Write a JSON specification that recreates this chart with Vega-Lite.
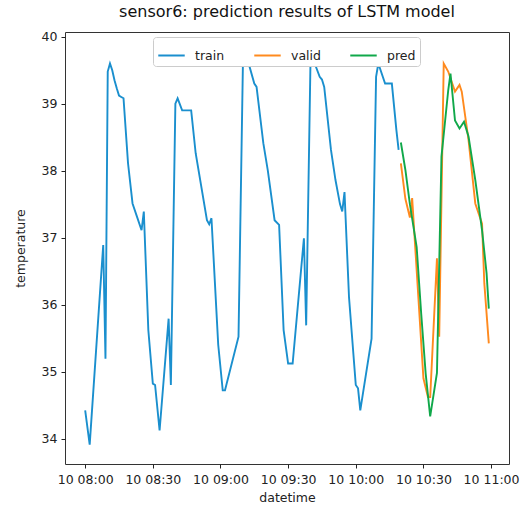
{
  "$schema": "https://vega.github.io/schema/vega-lite/v6.json",
  "width": 444,
  "height": 432,
  "autosize": {"type": "none"},
  "padding": {"left": 65, "top": 32, "right": 15, "bottom": 42},
  "background": "white",
  "title": {"text": "sensor6: prediction results of LSTM model", "fontSize": 16, "fontWeight": "normal", "font": "DejaVu Sans", "color": "#111", "offset": 11, "anchor": "middle"},
  "config": {
    "font": "DejaVu Sans",
    "view": {"stroke": "#333", "strokeWidth": 1},
    "axis": {"grid": false, "domain": false, "tickColor": "#222", "tickSize": 4, "labelColor": "#222", "titleColor": "#222", "labelFontSize": 12.5, "titleFontSize": 12.5, "titleFontWeight": "normal", "labelFont": "DejaVu Sans", "titleFont": "DejaVu Sans"}
  },
  "data": {"values": [
    {"series": "train", "time": "2020-01-10T08:00:00Z", "temperature": 34.42},
    {"series": "train", "time": "2020-01-10T08:02:00Z", "temperature": 33.91},
    {"series": "train", "time": "2020-01-10T08:08:00Z", "temperature": 36.89},
    {"series": "train", "time": "2020-01-10T08:09:00Z", "temperature": 35.19},
    {"series": "train", "time": "2020-01-10T08:10:00Z", "temperature": 39.48},
    {"series": "train", "time": "2020-01-10T08:11:00Z", "temperature": 39.6},
    {"series": "train", "time": "2020-01-10T08:12:00Z", "temperature": 39.5},
    {"series": "train", "time": "2020-01-10T08:13:00Z", "temperature": 39.35},
    {"series": "train", "time": "2020-01-10T08:14:00Z", "temperature": 39.23},
    {"series": "train", "time": "2020-01-10T08:15:00Z", "temperature": 39.12},
    {"series": "train", "time": "2020-01-10T08:16:00Z", "temperature": 39.1},
    {"series": "train", "time": "2020-01-10T08:17:00Z", "temperature": 39.08},
    {"series": "train", "time": "2020-01-10T08:19:00Z", "temperature": 38.11},
    {"series": "train", "time": "2020-01-10T08:21:00Z", "temperature": 37.51},
    {"series": "train", "time": "2020-01-10T08:23:00Z", "temperature": 37.31},
    {"series": "train", "time": "2020-01-10T08:25:00Z", "temperature": 37.11},
    {"series": "train", "time": "2020-01-10T08:26:00Z", "temperature": 37.39},
    {"series": "train", "time": "2020-01-10T08:28:00Z", "temperature": 35.62},
    {"series": "train", "time": "2020-01-10T08:30:00Z", "temperature": 34.82},
    {"series": "train", "time": "2020-01-10T08:31:00Z", "temperature": 34.8},
    {"series": "train", "time": "2020-01-10T08:33:00Z", "temperature": 34.12},
    {"series": "train", "time": "2020-01-10T08:37:00Z", "temperature": 35.79},
    {"series": "train", "time": "2020-01-10T08:38:00Z", "temperature": 34.8},
    {"series": "train", "time": "2020-01-10T08:40:00Z", "temperature": 39.0},
    {"series": "train", "time": "2020-01-10T08:41:00Z", "temperature": 39.08},
    {"series": "train", "time": "2020-01-10T08:43:00Z", "temperature": 38.9},
    {"series": "train", "time": "2020-01-10T08:47:00Z", "temperature": 38.9},
    {"series": "train", "time": "2020-01-10T08:49:00Z", "temperature": 38.26},
    {"series": "train", "time": "2020-01-10T08:54:00Z", "temperature": 37.26},
    {"series": "train", "time": "2020-01-10T08:55:00Z", "temperature": 37.2},
    {"series": "train", "time": "2020-01-10T08:56:00Z", "temperature": 37.29},
    {"series": "train", "time": "2020-01-10T08:59:00Z", "temperature": 35.4},
    {"series": "train", "time": "2020-01-10T09:01:00Z", "temperature": 34.72},
    {"series": "train", "time": "2020-01-10T09:02:00Z", "temperature": 34.72},
    {"series": "train", "time": "2020-01-10T09:08:00Z", "temperature": 35.52},
    {"series": "train", "time": "2020-01-10T09:10:00Z", "temperature": 39.7},
    {"series": "train", "time": "2020-01-10T09:11:00Z", "temperature": 39.78},
    {"series": "train", "time": "2020-01-10T09:15:00Z", "temperature": 39.3},
    {"series": "train", "time": "2020-01-10T09:16:00Z", "temperature": 39.25},
    {"series": "train", "time": "2020-01-10T09:19:00Z", "temperature": 38.41},
    {"series": "train", "time": "2020-01-10T09:21:00Z", "temperature": 38.0},
    {"series": "train", "time": "2020-01-10T09:24:00Z", "temperature": 37.26},
    {"series": "train", "time": "2020-01-10T09:26:00Z", "temperature": 37.19},
    {"series": "train", "time": "2020-01-10T09:28:00Z", "temperature": 35.62},
    {"series": "train", "time": "2020-01-10T09:30:00Z", "temperature": 35.12},
    {"series": "train", "time": "2020-01-10T09:32:00Z", "temperature": 35.12},
    {"series": "train", "time": "2020-01-10T09:37:00Z", "temperature": 36.99},
    {"series": "train", "time": "2020-01-10T09:38:00Z", "temperature": 35.69},
    {"series": "train", "time": "2020-01-10T09:40:00Z", "temperature": 39.8},
    {"series": "train", "time": "2020-01-10T09:41:00Z", "temperature": 39.73},
    {"series": "train", "time": "2020-01-10T09:42:00Z", "temperature": 39.58},
    {"series": "train", "time": "2020-01-10T09:44:00Z", "temperature": 39.4},
    {"series": "train", "time": "2020-01-10T09:45:00Z", "temperature": 39.36},
    {"series": "train", "time": "2020-01-10T09:46:00Z", "temperature": 39.25},
    {"series": "train", "time": "2020-01-10T09:49:00Z", "temperature": 38.31},
    {"series": "train", "time": "2020-01-10T09:51:00Z", "temperature": 37.86},
    {"series": "train", "time": "2020-01-10T09:53:00Z", "temperature": 37.5},
    {"series": "train", "time": "2020-01-10T09:54:00Z", "temperature": 37.39},
    {"series": "train", "time": "2020-01-10T09:55:00Z", "temperature": 37.68},
    {"series": "train", "time": "2020-01-10T09:57:00Z", "temperature": 36.11},
    {"series": "train", "time": "2020-01-10T10:00:00Z", "temperature": 34.8},
    {"series": "train", "time": "2020-01-10T10:01:00Z", "temperature": 34.75},
    {"series": "train", "time": "2020-01-10T10:02:00Z", "temperature": 34.42},
    {"series": "train", "time": "2020-01-10T10:07:00Z", "temperature": 35.49},
    {"series": "train", "time": "2020-01-10T10:09:00Z", "temperature": 39.4},
    {"series": "train", "time": "2020-01-10T10:10:00Z", "temperature": 39.6},
    {"series": "train", "time": "2020-01-10T10:13:00Z", "temperature": 39.3},
    {"series": "train", "time": "2020-01-10T10:16:00Z", "temperature": 39.3},
    {"series": "train", "time": "2020-01-10T10:18:00Z", "temperature": 38.61},
    {"series": "train", "time": "2020-01-10T10:19:00Z", "temperature": 38.31},
    {"series": "valid", "time": "2020-01-10T10:20:00Z", "temperature": 38.11},
    {"series": "valid", "time": "2020-01-10T10:22:00Z", "temperature": 37.58},
    {"series": "valid", "time": "2020-01-10T10:24:00Z", "temperature": 37.3},
    {"series": "valid", "time": "2020-01-10T10:25:00Z", "temperature": 37.59},
    {"series": "valid", "time": "2020-01-10T10:30:00Z", "temperature": 34.9},
    {"series": "valid", "time": "2020-01-10T10:32:00Z", "temperature": 34.62},
    {"series": "valid", "time": "2020-01-10T10:33:00Z", "temperature": 34.62},
    {"series": "valid", "time": "2020-01-10T10:36:00Z", "temperature": 36.69},
    {"series": "valid", "time": "2020-01-10T10:37:00Z", "temperature": 35.52},
    {"series": "valid", "time": "2020-01-10T10:39:00Z", "temperature": 39.6},
    {"series": "valid", "time": "2020-01-10T10:41:00Z", "temperature": 39.48},
    {"series": "valid", "time": "2020-01-10T10:44:00Z", "temperature": 39.18},
    {"series": "valid", "time": "2020-01-10T10:46:00Z", "temperature": 39.28},
    {"series": "valid", "time": "2020-01-10T10:47:00Z", "temperature": 39.18},
    {"series": "valid", "time": "2020-01-10T10:50:00Z", "temperature": 38.46},
    {"series": "valid", "time": "2020-01-10T10:53:00Z", "temperature": 37.51},
    {"series": "valid", "time": "2020-01-10T10:55:00Z", "temperature": 37.31},
    {"series": "valid", "time": "2020-01-10T10:56:00Z", "temperature": 37.21},
    {"series": "valid", "time": "2020-01-10T10:57:00Z", "temperature": 36.32},
    {"series": "valid", "time": "2020-01-10T10:59:00Z", "temperature": 35.42},
    {"series": "pred", "time": "2020-01-10T10:20:00Z", "temperature": 38.42},
    {"series": "pred", "time": "2020-01-10T10:22:00Z", "temperature": 38.01},
    {"series": "pred", "time": "2020-01-10T10:24:00Z", "temperature": 37.5},
    {"series": "pred", "time": "2020-01-10T10:27:00Z", "temperature": 36.86},
    {"series": "pred", "time": "2020-01-10T10:29:00Z", "temperature": 35.87},
    {"series": "pred", "time": "2020-01-10T10:31:00Z", "temperature": 34.97},
    {"series": "pred", "time": "2020-01-10T10:33:00Z", "temperature": 34.33},
    {"series": "pred", "time": "2020-01-10T10:36:00Z", "temperature": 34.98},
    {"series": "pred", "time": "2020-01-10T10:38:00Z", "temperature": 38.21},
    {"series": "pred", "time": "2020-01-10T10:41:00Z", "temperature": 39.2},
    {"series": "pred", "time": "2020-01-10T10:42:00Z", "temperature": 39.45},
    {"series": "pred", "time": "2020-01-10T10:44:00Z", "temperature": 38.75},
    {"series": "pred", "time": "2020-01-10T10:46:00Z", "temperature": 38.63},
    {"series": "pred", "time": "2020-01-10T10:48:00Z", "temperature": 38.73},
    {"series": "pred", "time": "2020-01-10T10:50:00Z", "temperature": 38.51},
    {"series": "pred", "time": "2020-01-10T10:53:00Z", "temperature": 37.86},
    {"series": "pred", "time": "2020-01-10T10:56:00Z", "temperature": 37.11},
    {"series": "pred", "time": "2020-01-10T10:58:00Z", "temperature": 36.47},
    {"series": "pred", "time": "2020-01-10T10:59:00Z", "temperature": 35.94}
  ]},
  "mark": {"type": "line", "strokeWidth": 1.9},
  "encoding": {
    "x": {
      "field": "time", "type": "temporal",
      "scale": {"type": "utc", "domain": [
        {"year": 2020, "month": 1, "date": 10, "hours": 7, "minutes": 51, "seconds": 3, "utc": true},
        {"year": 2020, "month": 1, "date": 10, "hours": 11, "minutes": 7, "seconds": 57, "utc": true}
      ]},
      "axis": {
        "title": "datetime", "labelExpr": "utcFormat(datum.value, '%d %H:%M')", "labelPadding": 5, "titlePadding": 6,
        "values": [
          {"year": 2020, "month": 1, "date": 10, "hours": 8, "minutes": 0, "utc": true},
          {"year": 2020, "month": 1, "date": 10, "hours": 8, "minutes": 30, "utc": true},
          {"year": 2020, "month": 1, "date": 10, "hours": 9, "minutes": 0, "utc": true},
          {"year": 2020, "month": 1, "date": 10, "hours": 9, "minutes": 30, "utc": true},
          {"year": 2020, "month": 1, "date": 10, "hours": 10, "minutes": 0, "utc": true},
          {"year": 2020, "month": 1, "date": 10, "hours": 10, "minutes": 30, "utc": true},
          {"year": 2020, "month": 1, "date": 10, "hours": 11, "minutes": 0, "utc": true}
        ]
      }
    },
    "y": {
      "field": "temperature", "type": "quantitative",
      "scale": {"domain": [33.62, 40.07], "zero": false, "nice": false},
      "axis": {"title": "temperature", "values": [34, 35, 36, 37, 38, 39, 40], "labelPadding": 4, "titlePadding": 14}
    },
    "color": {
      "field": "series", "type": "nominal",
      "scale": {"domain": ["train", "valid", "pred"], "range": ["#1a8fce", "#ff8a1e", "#10a84a"]},
      "legend": {
        "title": null, "orient": "none", "legendX": 88, "legendY": 5, "direction": "horizontal",
        "symbolType": "stroke", "symbolSize": 700, "symbolStrokeWidth": 2,
        "labelFontSize": 12.5, "labelFont": "DejaVu Sans", "labelColor": "#222", "labelOffset": 9,
        "columnPadding": 25, "padding": 4, "strokeColor": "#cccccc", "fillColor": "white", "cornerRadius": 3
      }
    }
  }
}
